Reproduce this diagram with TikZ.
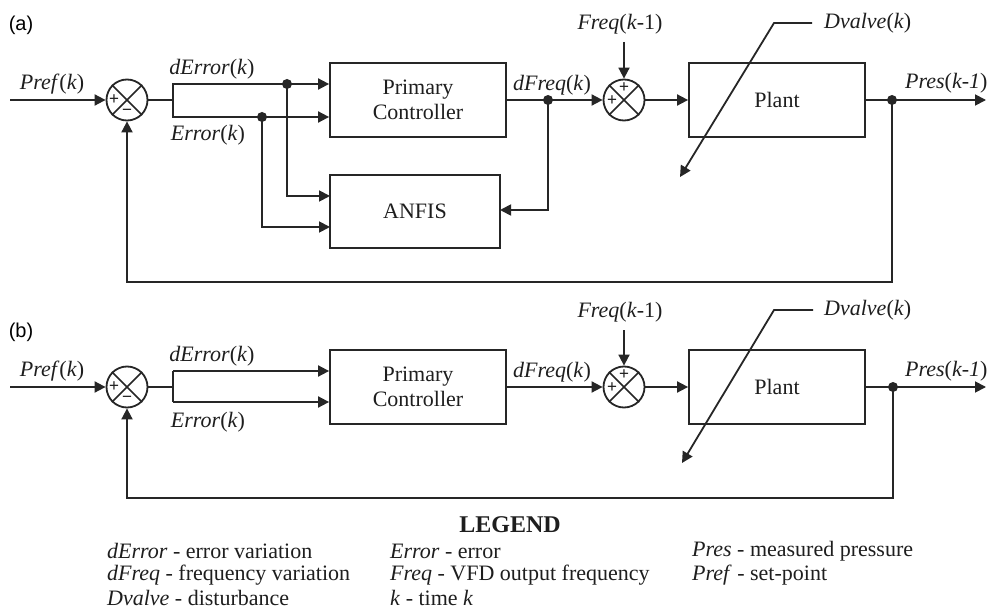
\documentclass[tikz,border=0pt]{standalone}
\usepackage{fontspec}
\setmainfont{Liberation Serif}
\newfontfamily\panelfont{Liberation Sans}
\usetikzlibrary{arrows.meta,calc}
\definecolor{lc}{HTML}{262626}
\definecolor{tc}{HTML}{1E1E1E}
\newcommand\dfs{\fontsize{22}{25}\selectfont}
\begin{document}
\begin{tikzpicture}[x=1pt,y=-1pt,
 wire/.style={draw=lc,line width=1.8pt},
 arr/.style={wire,-{Triangle[length=11pt,width=11pt]}},
 blk/.style={draw=lc,line width=1.8pt,inner sep=0pt,align=center,font=\dfs,text=tc,minimum width=176pt,minimum height=74pt},
 sumc/.style={circle,draw=lc,line width=1.8pt,minimum size=41pt,inner sep=0pt},
 jdot/.style={circle,fill=lc,minimum size=10pt,inner sep=0pt},
 lbl/.style={font=\dfs,text=tc,inner sep=0pt},
 sgn/.style={font=\panelfont\fontsize{17}{17}\selectfont,text=tc,inner sep=0pt},
 pan/.style={font=\panelfont\fontsize{20}{20}\selectfont,text=black,inner sep=0pt},
 leg/.style={font=\dfs,text=tc,inner sep=0pt,anchor=west},
 xl/.style={draw=lc,line width=1.5pt},
]
\fill[white] (0,0) rectangle (987,612);
\useasboundingbox (0,0) rectangle (987,612);

% ================= (a) =================
\node[pan] (la) at (21,25) {(a)};
\node[lbl] (prefA) at (52,84) {\textit{Pref}(\textit{k})};
\coordinate (inA) at (10,100);
\node[sumc] (s1A) at (127,100) {};
\draw[xl] (s1A.north west) -- (s1A.south east) (s1A.north east) -- (s1A.south west);
\node[sgn] (p1A) at (114,100) {+};
\node[sgn] (m1A) at (127,112) {−};
\coordinate (brA) at (173,100);
\node[jdot] (d1A) at (287,84) {};
\node[jdot] (d2A) at (262,117) {};
\node[lbl] (deA) at (212,69) {\textit{dError}(\textit{k})};
\node[lbl] (eA) at (208,135) {\textit{Error}(\textit{k})};
\node[blk] (pcA) at (418,100) {Primary\\Controller};
\node[blk,minimum width=170pt,minimum height=73pt] (anA) at (415,211.5) {ANFIS};
\coordinate (an1A) at (330,196);
\coordinate (an2A) at (330,227);
\coordinate (an3A) at (500,210);
\node[lbl] (dfA) at (552,85) {\textit{dFreq}(\textit{k})};
\node[jdot] (d3A) at (548,100) {};
\node[sumc] (s2A) at (624,100) {};
\draw[xl] (s2A.north west) -- (s2A.south east) (s2A.north east) -- (s2A.south west);
\node[sgn] (p2A) at (624,88) {+};
\node[sgn] (p3A) at (612,101) {+};
\node[lbl] (fqA) at (620,24) {\textit{Freq}(\textit{k}-1)};
\coordinate (fqsA) at (624,42);
\node[blk] (plA) at (777,100) {Plant};
\node[jdot] (d4A) at (892,100) {};
\coordinate (outA) at (986,100);
\node[lbl,anchor=west] (prA) at (905,83) {\textit{Pres}(\textit{k-1})};
\coordinate (fbA) at (892,282);
\coordinate (dv1A) at (812,23);
\coordinate (dv2A) at (774,23);
\coordinate (dv3A) at (680,177);
\node[lbl,anchor=west] (dvA) at (824,23) {\textit{Dvalve}(\textit{k})};

\draw[arr] (inA) -- (s1A.west);
\draw[wire] (s1A.east) -- (brA);
\draw[wire] (brA) |- (d1A.center);
\draw[wire] (brA) |- (d2A.center);
\draw[arr] (d1A.center) -- (d1A -| pcA.west);
\draw[arr] (d2A.center) -- (d2A -| pcA.west);
\draw[arr] (d1A.center) |- (an1A);
\draw[arr] (d2A.center) |- (an2A);
\draw[arr] (pcA.east) -- (s2A.west);
\draw[arr] (d3A.center) |- (an3A);
\draw[arr] (fqsA) -- (s2A.north);
\draw[arr] (s2A.east) -- (plA.west);
\draw[arr] (plA.east) -- (outA);
\draw[arr] (d4A.center) -- (fbA) -| (s1A.south);
\draw[arr] (dv1A) -- (dv2A) -- (dv3A);

% ================= (b) =================
\node[pan] (lb) at (21,332) {(b)};
\node[lbl] (prefB) at (52,371) {\textit{Pref}(\textit{k})};
\coordinate (inB) at (10,387);
\node[sumc] (s1B) at (127,387) {};
\draw[xl] (s1B.north west) -- (s1B.south east) (s1B.north east) -- (s1B.south west);
\node[sgn] (p1B) at (114,387) {+};
\node[sgn] (m1B) at (127,399) {−};
\coordinate (brB) at (173,387);
\coordinate (t1B) at (173,371);
\coordinate (t2B) at (173,402);
\node[lbl] (deB) at (212,356) {\textit{dError}(\textit{k})};
\node[lbl] (eB) at (208,422) {\textit{Error}(\textit{k})};
\node[blk] (pcB) at (418,387) {Primary\\Controller};
\node[lbl] (dfB) at (552,372) {\textit{dFreq}(\textit{k})};
\node[sumc] (s2B) at (624,387) {};
\draw[xl] (s2B.north west) -- (s2B.south east) (s2B.north east) -- (s2B.south west);
\node[sgn] (p2B) at (624,375) {+};
\node[sgn] (p3B) at (612,388) {+};
\node[lbl] (fqB) at (620,312) {\textit{Freq}(\textit{k}-1)};
\coordinate (fqsB) at (624,330);
\node[blk] (plB) at (777,387) {Plant};
\node[jdot] (d4B) at (893,387) {};
\coordinate (outB) at (986,387);
\node[lbl,anchor=west] (prB) at (905,371) {\textit{Pres}(\textit{k-1})};
\coordinate (fbB) at (893,498);
\coordinate (dv1B) at (813,310);
\coordinate (dv2B) at (774,310);
\coordinate (dv3B) at (682,463);
\node[lbl,anchor=west] (dvB) at (824,310) {\textit{Dvalve}(\textit{k})};

\draw[arr] (inB) -- (s1B.west);
\draw[wire] (s1B.east) -- (brB);
\draw[wire] (t1B) -- (t2B);
\draw[arr] (t1B) -- (t1B -| pcB.west);
\draw[arr] (t2B) -- (t2B -| pcB.west);
\draw[arr] (pcB.east) -- (s2B.west);
\draw[arr] (fqsB) -- (s2B.north);
\draw[arr] (s2B.east) -- (plB.west);
\draw[arr] (plB.east) -- (outB);
\draw[arr] (d4B.center) -- (fbB) -| (s1B.south);
\draw[arr] (dv1B) -- (dv2B) -- (dv3B);

% ================= legend =================
\node[font=\fontsize{24}{26}\selectfont\bfseries,text=tc,inner sep=0pt] (legt) at (510,525) {LEGEND};
\node[leg] (l11) at (107,551) {\textit{dError} - error variation};
\node[leg] (l21) at (107,575) {\textit{dFreq} - frequency variation};
\node[leg] (l31) at (107,598) {\textit{Dvalve} - disturbance};
\node[leg] (l12) at (390,551) {\textit{Error} - error};
\node[leg] (l22) at (390,575) {\textit{Freq} - VFD output frequency};
\node[leg] (l32) at (390,598) {\textit{k} - time \textit{k}};
\node[leg] (l13) at (692,551) {\textit{Pres} - measured pressure};
\node[leg] (l23) at (692,575) {\textit{Pref} - set-point};
\end{tikzpicture}
\end{document}
